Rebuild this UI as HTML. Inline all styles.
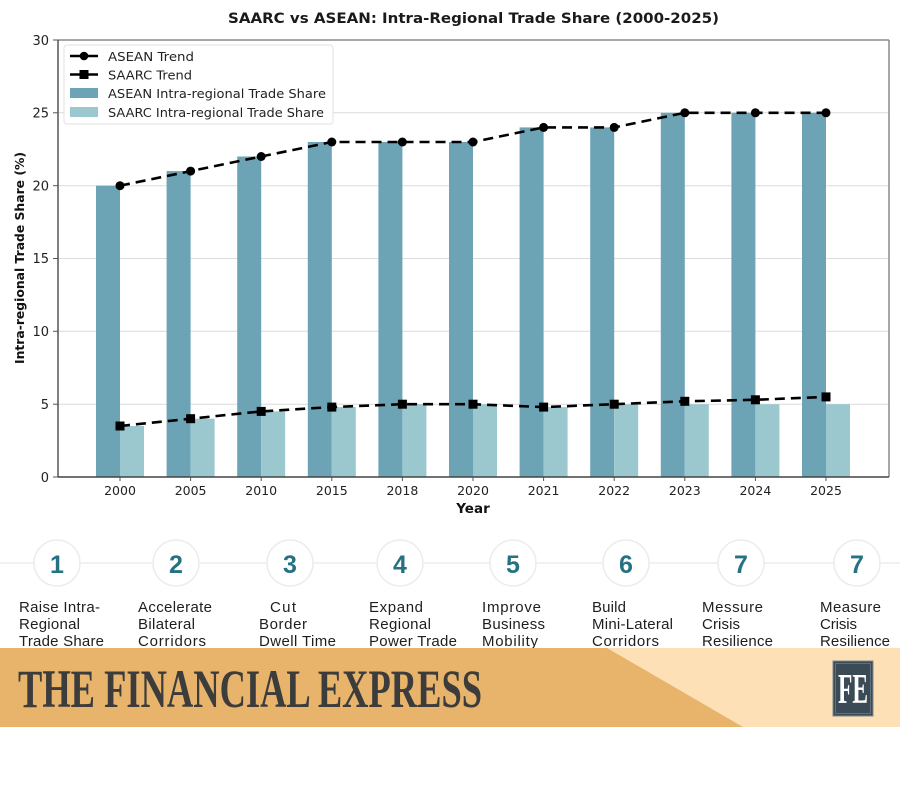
<!DOCTYPE html>
<html>
<head>
<meta charset="utf-8">
<style>
html,body{margin:0;padding:0;background:#fff;}
svg{display:block;}
</style>
</head>
<body>
<svg width="900" height="810" viewBox="0 0 900 810" xmlns="http://www.w3.org/2000/svg">
<rect x="0" y="0" width="900" height="810" fill="#fff"/>
<!-- Title -->
<text x="228" y="23" font-family="DejaVu Sans, Liberation Sans, sans-serif" font-weight="bold" font-size="14" fill="#1a1a1a" textLength="491" lengthAdjust="spacingAndGlyphs">SAARC vs ASEAN: Intra-Regional Trade Share (2000-2025)</text>

<!-- gridlines -->
<g stroke="#dcdcdc" stroke-width="1">
<line x1="58" y1="404.2" x2="889" y2="404.2"/>
<line x1="58" y1="331.3" x2="889" y2="331.3"/>
<line x1="58" y1="258.5" x2="889" y2="258.5"/>
<line x1="58" y1="185.7" x2="889" y2="185.7"/>
<line x1="58" y1="112.8" x2="889" y2="112.8"/>
</g>

<!-- ASEAN bars -->
<g fill="#6ca4b5">
<rect x="96" y="185.7" width="24" height="291.3"/>
<rect x="166.6" y="171.1" width="24" height="305.9"/>
<rect x="237.2" y="156.5" width="24" height="320.5"/>
<rect x="307.8" y="142" width="24" height="335"/>
<rect x="378.4" y="142" width="24" height="335"/>
<rect x="449" y="142" width="24" height="335"/>
<rect x="519.6" y="127.4" width="24" height="349.6"/>
<rect x="590.2" y="127.4" width="24" height="349.6"/>
<rect x="660.8" y="112.8" width="24" height="364.2"/>
<rect x="731.4" y="112.8" width="24" height="364.2"/>
<rect x="802" y="112.8" width="24" height="364.2"/>
</g>
<!-- SAARC bars -->
<g fill="#9bc8cf">
<rect x="120" y="426" width="24" height="51"/>
<rect x="190.6" y="418.7" width="24" height="58.3"/>
<rect x="261.2" y="411.4" width="24" height="65.6"/>
<rect x="331.8" y="407.1" width="24" height="69.9"/>
<rect x="402.4" y="404.2" width="24" height="72.8"/>
<rect x="473" y="404.2" width="24" height="72.8"/>
<rect x="543.6" y="407.1" width="24" height="69.9"/>
<rect x="614.2" y="404.2" width="24" height="72.8"/>
<rect x="684.8" y="404.2" width="24" height="72.8"/>
<rect x="755.4" y="404.2" width="24" height="72.8"/>
<rect x="826" y="404.2" width="24" height="72.8"/>
</g>

<!-- ASEAN trend -->
<polyline fill="none" stroke="#000" stroke-width="2.6" stroke-dasharray="10,6" points="120,185.7 190.6,171.1 261.2,156.5 331.8,142 402.4,142 473,142 543.6,127.4 614.2,127.4 684.8,112.8 755.4,112.8 826,112.8"/>
<g fill="#000">
<circle cx="120" cy="185.7" r="4.5"/>
<circle cx="190.6" cy="171.1" r="4.5"/>
<circle cx="261.2" cy="156.5" r="4.5"/>
<circle cx="331.8" cy="142" r="4.5"/>
<circle cx="402.4" cy="142" r="4.5"/>
<circle cx="473" cy="142" r="4.5"/>
<circle cx="543.6" cy="127.4" r="4.5"/>
<circle cx="614.2" cy="127.4" r="4.5"/>
<circle cx="684.8" cy="112.8" r="4.5"/>
<circle cx="755.4" cy="112.8" r="4.5"/>
<circle cx="826" cy="112.8" r="4.5"/>
</g>
<!-- SAARC trend -->
<polyline fill="none" stroke="#000" stroke-width="2.6" stroke-dasharray="10,6" points="120,426 190.6,418.7 261.2,411.4 331.8,407.1 402.4,404.2 473,404.2 543.6,407.1 614.2,404.2 684.8,401.3 755.4,399.8 826,396.9"/>
<g fill="#000">
<rect x="115.5" y="421.5" width="9" height="9"/>
<rect x="186.1" y="414.2" width="9" height="9"/>
<rect x="256.7" y="406.9" width="9" height="9"/>
<rect x="327.3" y="402.6" width="9" height="9"/>
<rect x="397.9" y="399.7" width="9" height="9"/>
<rect x="468.5" y="399.7" width="9" height="9"/>
<rect x="539.1" y="402.6" width="9" height="9"/>
<rect x="609.7" y="399.7" width="9" height="9"/>
<rect x="680.3" y="396.8" width="9" height="9"/>
<rect x="750.9" y="395.3" width="9" height="9"/>
<rect x="821.5" y="392.4" width="9" height="9"/>
</g>

<!-- spines -->
<line x1="58" y1="40" x2="889" y2="40" stroke="#8a8a8a" stroke-width="1.5"/>
<line x1="889" y1="40" x2="889" y2="477" stroke="#8a8a8a" stroke-width="1.5"/>
<line x1="58" y1="40" x2="58" y2="477.5" stroke="#555" stroke-width="1.5"/>
<line x1="58" y1="477" x2="889" y2="477" stroke="#444" stroke-width="1.5"/>

<!-- y ticks -->
<g stroke="#555" stroke-width="1">
<line x1="53" y1="40" x2="58" y2="40"/>
<line x1="53" y1="112.8" x2="58" y2="112.8"/>
<line x1="53" y1="185.7" x2="58" y2="185.7"/>
<line x1="53" y1="258.5" x2="58" y2="258.5"/>
<line x1="53" y1="331.3" x2="58" y2="331.3"/>
<line x1="53" y1="404.2" x2="58" y2="404.2"/>
<line x1="53" y1="477" x2="58" y2="477"/>
</g>
<g font-family="DejaVu Sans, Liberation Sans, sans-serif" font-size="13" fill="#222" text-anchor="end">
<text x="49" y="45">30</text>
<text x="49" y="117.5">25</text>
<text x="49" y="190.5">20</text>
<text x="49" y="263">15</text>
<text x="49" y="336">10</text>
<text x="49" y="409">5</text>
<text x="49" y="482">0</text>
</g>
<!-- x ticks -->
<g stroke="#555" stroke-width="1">
<line x1="120" y1="477" x2="120" y2="481"/>
<line x1="190.6" y1="477" x2="190.6" y2="481"/>
<line x1="261.2" y1="477" x2="261.2" y2="481"/>
<line x1="331.8" y1="477" x2="331.8" y2="481"/>
<line x1="402.4" y1="477" x2="402.4" y2="481"/>
<line x1="473" y1="477" x2="473" y2="481"/>
<line x1="543.6" y1="477" x2="543.6" y2="481"/>
<line x1="614.2" y1="477" x2="614.2" y2="481"/>
<line x1="684.8" y1="477" x2="684.8" y2="481"/>
<line x1="755.4" y1="477" x2="755.4" y2="481"/>
<line x1="826" y1="477" x2="826" y2="481"/>
</g>
<g font-family="DejaVu Sans, Liberation Sans, sans-serif" font-size="12.5" fill="#222" text-anchor="middle">
<text x="120" y="495">2000</text>
<text x="190.6" y="495">2005</text>
<text x="261.2" y="495">2010</text>
<text x="331.8" y="495">2015</text>
<text x="402.4" y="495">2018</text>
<text x="473" y="495">2020</text>
<text x="543.6" y="495">2021</text>
<text x="614.2" y="495">2022</text>
<text x="684.8" y="495">2023</text>
<text x="755.4" y="495">2024</text>
<text x="826" y="495">2025</text>
</g>
<text x="473" y="513" font-family="DejaVu Sans, Liberation Sans, sans-serif" font-weight="bold" font-size="13.5" fill="#111" text-anchor="middle">Year</text>
<text transform="translate(24,258) rotate(-90)" x="0" y="0" font-family="DejaVu Sans, Liberation Sans, sans-serif" font-weight="bold" font-size="12.5" fill="#111" text-anchor="middle" textLength="212" lengthAdjust="spacingAndGlyphs">Intra-regional Trade Share (%)</text>

<!-- legend -->
<rect x="64" y="45" width="269" height="79" rx="3" fill="#fff" fill-opacity="0.9" stroke="#e2e2e2" stroke-width="1"/>
<line x1="70" y1="56" x2="98" y2="56" stroke="#000" stroke-width="2.6"/>
<circle cx="84" cy="56" r="4.3" fill="#000"/>
<line x1="70" y1="74.5" x2="98" y2="74.5" stroke="#000" stroke-width="2.6"/>
<rect x="79.5" y="70" width="9" height="9" fill="#000"/>
<rect x="70" y="88" width="28" height="10" fill="#6ca4b5"/>
<rect x="70" y="107" width="28" height="10" fill="#9bc8cf"/>
<g font-family="DejaVu Sans, Liberation Sans, sans-serif" font-size="12.5" fill="#222">
<text x="108" y="61" textLength="86" lengthAdjust="spacingAndGlyphs">ASEAN Trend</text>
<text x="108" y="79.5" textLength="84" lengthAdjust="spacingAndGlyphs">SAARC Trend</text>
<text x="108" y="98" textLength="218" lengthAdjust="spacingAndGlyphs">ASEAN Intra-regional Trade Share</text>
<text x="108" y="117" textLength="216" lengthAdjust="spacingAndGlyphs">SAARC Intra-regional Trade Share</text>
</g>

<!-- steps -->
<line x1="0" y1="563" x2="900" y2="563" stroke="#f1f1f1" stroke-width="2"/>
<g fill="#fff" stroke="#ececec" stroke-width="1.5">
<circle cx="57" cy="563" r="23"/>
<circle cx="176" cy="563" r="23"/>
<circle cx="290" cy="563" r="23"/>
<circle cx="400" cy="563" r="23"/>
<circle cx="513" cy="563" r="23"/>
<circle cx="626" cy="563" r="23"/>
<circle cx="741" cy="563" r="23"/>
<circle cx="857" cy="563" r="23"/>
</g>
<g font-family="Liberation Sans, DejaVu Sans, sans-serif" font-weight="bold" font-size="25" fill="#257282" text-anchor="middle">
<text x="57" y="573">1</text>
<text x="176" y="573">2</text>
<text x="290" y="573">3</text>
<text x="400" y="573">4</text>
<text x="513" y="573">5</text>
<text x="626" y="573">6</text>
<text x="741" y="573">7</text>
<text x="857" y="573">7</text>
</g>
<g font-family="Liberation Sans, DejaVu Sans, sans-serif" font-size="15" fill="#1e1e1e" lengthAdjust="spacingAndGlyphs">
<text x="19" y="612" textLength="81">Raise Intra-</text>
<text x="19" y="629" textLength="61">Regional</text>
<text x="19" y="646" textLength="85">Trade Share</text>
<text x="138" y="612" textLength="74">Accelerate</text>
<text x="138" y="629" textLength="57">Bilateral</text>
<text x="138" y="646" textLength="68">Corridors</text>
<text x="270" y="612" textLength="26">Cut</text>
<text x="259" y="629" textLength="48">Border</text>
<text x="259" y="646" textLength="77">Dwell Time</text>
<text x="369" y="612" textLength="54">Expand</text>
<text x="369" y="629" textLength="62">Regional</text>
<text x="369" y="646" textLength="88">Power Trade</text>
<text x="482" y="612" textLength="59">Improve</text>
<text x="482" y="629" textLength="63">Business</text>
<text x="482" y="646" textLength="56">Mobility</text>
<text x="592" y="612" textLength="34">Build</text>
<text x="592" y="629" textLength="81">Mini-Lateral</text>
<text x="592" y="646" textLength="67">Corridors</text>
<text x="702" y="612" textLength="61">Messure</text>
<text x="702" y="629" textLength="38">Crisis</text>
<text x="702" y="646" textLength="71">Resilience</text>
<text x="820" y="612" textLength="61">Measure</text>
<text x="820" y="629" textLength="37">Crisis</text>
<text x="820" y="646" textLength="70">Resilience</text>
</g>

<!-- banner -->
<rect x="0" y="648" width="900" height="79" fill="#fde0b6"/>
<polygon points="0,648 607,648 743,727 0,727" fill="#e8b36a"/>
<text x="18" y="707" font-family="Liberation Serif, DejaVu Serif, serif" font-weight="bold" font-size="54" fill="#3c3c3c" textLength="464" lengthAdjust="spacingAndGlyphs">THE FINANCIAL EXPRESS</text>
<rect x="833" y="661" width="40" height="55" fill="#3a4b56" stroke="#7d8a92" stroke-width="1"/>
<rect x="835.5" y="663.5" width="35" height="50" fill="none" stroke="#6c7a83" stroke-width="0.8"/>
<text x="838" y="703" font-family="Liberation Serif, DejaVu Serif, serif" font-weight="bold" font-size="42" fill="#fff" textLength="30" lengthAdjust="spacingAndGlyphs">FE</text>
</svg>
</body>
</html>
